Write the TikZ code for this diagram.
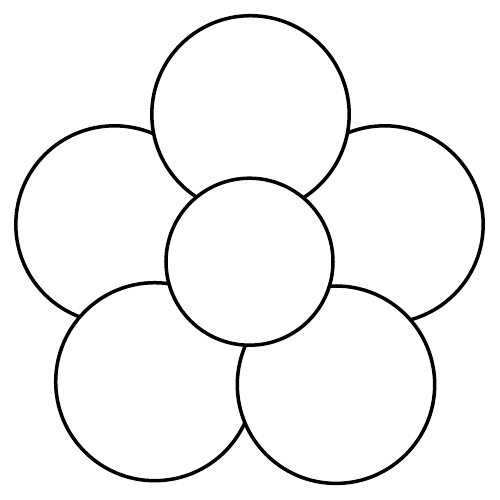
\documentclass[tikz,border=0pt]{standalone}
\usepackage{tikz}
\usetikzlibrary{calc}

\begin{document}
\begin{tikzpicture}[x=0.2mm, y=-0.2mm,
    petal/.style={draw=black, fill=white, line width=2pt}]

    \useasboundingbox (0,0) rectangle (500,500);

    % outer petals, back to front
    \foreach \cx/\cy/\r in {114.5/224.5/98.7, 384.5/224.5/98.7, 250.5/114.4/98.7, 154.7/381.7/99, 336/384.7/98.7}
        \filldraw[petal] (\cx,\cy) circle[radius=\r];

    % middle
    \coordinate (mid) at (249.5,261.7);
    \filldraw[petal] (mid) circle[radius=83.5];

\end{tikzpicture}
\end{document}
